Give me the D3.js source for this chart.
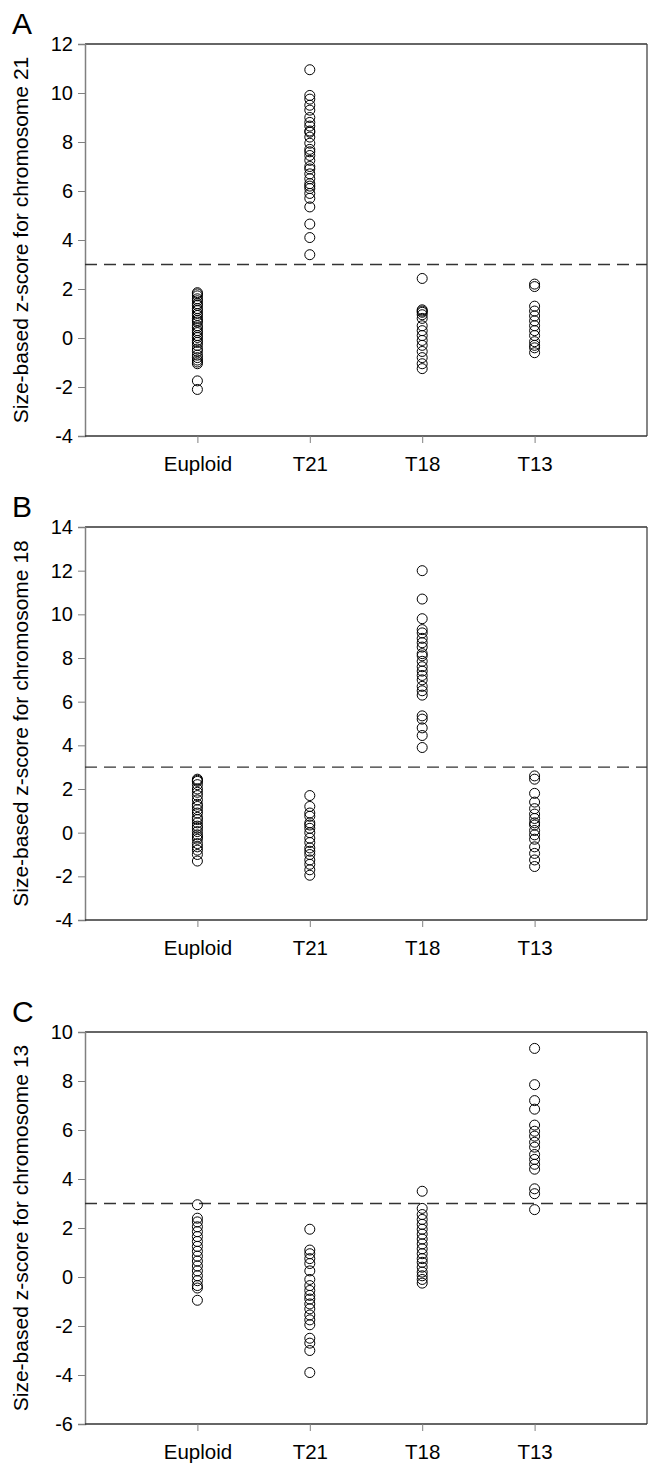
<!DOCTYPE html>
<html>
<head>
<meta charset="utf-8">
<script src="https://cdn.jsdelivr.net/npm/d3@7"></script>
<style>
  body { margin: 0; background: #fff; }
  svg { display: block; font-family: "Liberation Sans", Arial, sans-serif; }
</style>
</head>
<body>
<script>
var groups = ["Euploid", "T21", "T18", "T13"];
var cutoff = 3;

// panel A: chromosome 21
var chr21Euploid = [1.85, 1.8, 1.72, 1.6, 1.52, 1.4, 1.33, 1.2, 1.12, 1.0, 0.92, 0.8, 0.72, 0.65, 0.5, 0.42, 0.3, 0.22, 0.1, 0.02, -0.1, -0.18, -0.3, -0.45, -0.55, -0.7, -0.8, -0.9, -0.98, -1.05, -1.75, -2.1];
var chr21T21 = [10.95, 9.9, 9.75, 9.5, 9.3, 9.0, 8.8, 8.65, 8.45, 8.4, 8.2, 7.95, 7.7, 7.6, 7.45, 7.25, 7.0, 6.9, 6.7, 6.5, 6.3, 6.2, 6.1, 5.9, 5.7, 5.35, 4.65, 4.1, 3.4];
var chr21T18 = [2.43, 1.15, 1.1, 1.05, 0.95, 0.8, 0.5, 0.3, 0.1, -0.1, -0.3, -0.55, -0.8, -1.05, -1.25];
var chr21T13 = [2.2, 2.1, 1.3, 1.1, 0.9, 0.7, 0.5, 0.3, 0.1, -0.15, -0.3, -0.4, -0.6];

// panel B: chromosome 18
var chr18Euploid = [2.45, 2.4, 2.35, 2.2, 2.0, 1.85, 1.7, 1.5, 1.3, 1.2, 1.05, 0.9, 0.7, 0.6, 0.45, 0.3, 0.2, 0.05, -0.1, -0.2, -0.3, -0.5, -0.65, -0.8, -1.0, -1.3];
var chr18T21 = [1.7, 1.2, 0.9, 0.75, 0.45, 0.35, 0.2, 0.0, -0.25, -0.45, -0.7, -0.85, -1.0, -1.25, -1.45, -1.7, -1.95];
var chr18T18 = [12.0, 10.7, 9.8, 9.3, 9.15, 8.9, 8.7, 8.5, 8.2, 8.1, 7.85, 7.6, 7.4, 7.2, 7.0, 6.7, 6.5, 6.3, 5.35, 5.2, 4.8, 4.45, 3.9];
var chr18T13 = [2.6, 2.45, 1.8, 1.4, 1.1, 0.85, 0.65, 0.45, 0.35, 0.1, -0.1, -0.3, -0.65, -0.95, -1.25, -1.55];

// panel C: chromosome 13
var chr13Euploid = [2.95, 2.4, 2.25, 2.05, 1.85, 1.65, 1.45, 1.25, 1.05, 0.85, 0.65, 0.45, 0.25, 0.05, -0.15, -0.35, -0.45, -0.95];
var chr13T21 = [1.95, 1.1, 0.95, 0.75, 0.55, 0.25, -0.1, -0.35, -0.55, -0.75, -0.9, -1.1, -1.3, -1.55, -1.75, -1.95, -2.5, -2.7, -3.0, -3.9];
var chr13T18 = [3.5, 2.8, 2.55, 2.35, 2.15, 1.95, 1.75, 1.55, 1.35, 1.15, 0.95, 0.75, 0.6, 0.4, 0.2, 0.05, -0.1, -0.25];
var chr13T13 = [9.33, 7.85, 7.2, 6.85, 6.2, 5.95, 5.75, 5.5, 5.3, 5.0, 4.8, 4.6, 4.4, 3.6, 3.4, 2.75];

var panels = [
  { letter: "A", chrom: "21", yDomain: [-4, 12], yTicks: [-4, -2, 0, 2, 4, 6, 8, 10, 12], top: 44, bottom: 436,
    series: [chr21Euploid, chr21T21, chr21T18, chr21T13] },
  { letter: "B", chrom: "18", yDomain: [-4, 14], yTicks: [-4, -2, 0, 2, 4, 6, 8, 10, 12, 14], top: 527, bottom: 920,
    series: [chr18Euploid, chr18T21, chr18T18, chr18T13] },
  { letter: "C", chrom: "13", yDomain: [-6, 10], yTicks: [-6, -4, -2, 0, 2, 4, 6, 8, 10], top: 1032, bottom: 1424,
    series: [chr13Euploid, chr13T21, chr13T18, chr13T13] }
];

var W = 649, H = 1466;
var left = 85, right = 647;

var svg = d3.select("body").append("svg")
  .attr("width", W)
  .attr("height", H);

var x = d3.scaleLinear().domain([0, 5]).range([left, right]);

panels.forEach(function(p) {
  var y = d3.scaleLinear().domain(p.yDomain).range([p.bottom, p.top]);
  var g = svg.append("g");

  // frame: top and right
  g.append("line").attr("x1", left).attr("x2", right).attr("y1", p.top).attr("y2", p.top)
    .attr("stroke", "#333").attr("stroke-width", 1.3);
  g.append("line").attr("x1", right).attr("x2", right).attr("y1", p.top).attr("y2", p.bottom)
    .attr("stroke", "#444").attr("stroke-width", 1.3);

  // y axis
  var yAxis = d3.axisLeft(y).tickValues(p.yTicks).tickSize(7).tickPadding(5).tickFormat(d3.format("d"));
  var ya = g.append("g").attr("transform", "translate(" + left + ",0)").call(yAxis);
  ya.select(".domain").attr("stroke", "#808080").attr("stroke-width", 1.5);
  ya.selectAll(".tick line").attr("stroke", "#808080");
  ya.selectAll(".tick text").attr("font-size", 20).attr("fill", "#000")
    .attr("font-family", "Liberation Sans, Arial, sans-serif")
    .text(function(d) { return d < 0 ? "-" + Math.abs(d) : d; });

  // x axis
  var xAxis = d3.axisBottom(x).tickValues([1, 2, 3, 4]).tickSize(7).tickPadding(13)
    .tickFormat(function(d) { return groups[d - 1]; });
  var xa = g.append("g").attr("transform", "translate(0," + p.bottom + ")").call(xAxis);
  xa.select(".domain").attr("stroke", "#333").attr("stroke-width", 1.3).attr("d", "M" + left + ",0H" + right);
  xa.selectAll(".tick line").attr("stroke", "#808080");
  xa.selectAll(".tick text").attr("font-size", 20.5).attr("fill", "#000")
    .attr("font-family", "Liberation Sans, Arial, sans-serif");

  // cutoff line
  g.append("line")
    .attr("x1", left).attr("x2", right)
    .attr("y1", y(cutoff)).attr("y2", y(cutoff))
    .attr("stroke", "#333").attr("stroke-width", 1.3)
    .attr("stroke-dasharray", "12,7");

  // points
  p.series.forEach(function(vals, i) {
    g.selectAll(null).data(vals).enter().append("circle")
      .attr("cx", x(i + 1))
      .attr("cy", function(d) { return y(d); })
      .attr("r", 5)
      .attr("fill", "none")
      .attr("stroke", "#000")
      .attr("stroke-width", 1);
  });

  // y title
  g.append("text")
    .attr("transform", "translate(28," + ((p.top + p.bottom) / 2) + ") rotate(-90)")
    .attr("text-anchor", "middle")
    .attr("font-size", 21)
    .text("Size-based z-score for chromosome " + p.chrom);

  // panel letter
  g.append("text")
    .attr("x", 12).attr("y", p.top - 10)
    .attr("font-size", 30)
    .text(p.letter);
});
</script>
</body>
</html>
